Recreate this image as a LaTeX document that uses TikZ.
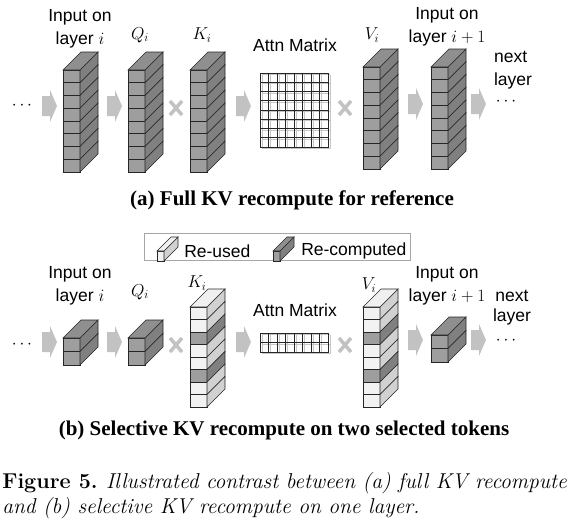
\documentclass[tikz,border=0pt]{standalone}
\usepackage{fontspec}
\setsansfont{Liberation Sans}
\newfontfamily\timesfont{Liberation Serif}
\usetikzlibrary{positioning}
\definecolor{recfront}{gray}{0.62}
\definecolor{recside}{gray}{0.50}
\definecolor{rectop}{gray}{0.56}
\definecolor{usefront}{gray}{0.95}
\definecolor{useside}{gray}{0.82}
\definecolor{usetop}{gray}{0.94}
\definecolor{arrowgray}{gray}{0.76}
\tikzset{
	rfront/.style={fill=recfront, draw=black!85},
	rside/.style={fill=recside, draw=black!85},
	rtop/.style={fill=rectop, draw=black!85},
	ufront/.style={fill=usefront, draw=black!85},
	uside/.style={fill=useside, draw=black!85},
	utop/.style={fill=usetop, draw=black!85},
	lbl/.style={font=\fontsize{17.5}{23}\selectfont\sffamily, align=center, inner sep=0pt},
	sublbl/.style={font=\fontsize{21}{25}\selectfont\timesfont\bfseries, inner sep=0pt},
	caplbl/.style={font=\fontsize{21.5}{26}\selectfont, inner sep=0pt, anchor=west}
}
\newcommand{\cellh}{12.75}
\newcommand{\tokcell}[1]{\draw[#1front] (0,0) rectangle (17,\cellh);
					\draw[#1side] (17,0) -- (35,-18) -- (35,\cellh-18) -- (17,\cellh) -- cycle;}
\newcommand{\tokcol}[2]{\foreach \s [count=\k from 0] in {#2} {
						\begin{scope}[shift={(0,\k*\cellh)}]
							\tokcell{\s}
						\end{scope}
					}
					\draw[#1top] (0,0) -- (18,-18) -- (35,-18) -- (17,0) -- cycle;}
\newcommand{\blockarrow}{\fill[arrowgray] (0,-10) -- (8,-10) -- (8,-16) -- (15,0) -- (8,16) -- (8,10) -- (0,10) -- cycle;}
\newcommand{\timesmark}{\draw[arrowgray, line width=3.5pt] (-6,-7) -- (6,7) (-6,7) -- (6,-7);}
\newcommand{\legendcube}[1]{\draw[#1front] (0,0) rectangle (7,10);
					\draw[#1side] (7,0) -- (21,-14) -- (21,-4) -- (7,10) -- cycle;
					\draw[#1top] (0,0) -- (14,-14) -- (21,-14) -- (7,0) -- cycle;}

\begin{document}
\begin{tikzpicture}[x=1pt, y=-1pt, line width=0.6pt]
	\useasboundingbox (0,0) rectangle (586,530);

	% (a) full KV recompute
	\node[lbl] (inA) at (80,29) {Input on\\layer $i$};
	\node[lbl] (qA) at (140,35) {$Q_i$};
	\node[lbl] (kA) at (202,35) {$K_i$};
	\node[lbl] (attnA) at (295,45) {Attn Matrix};
	\node[lbl] (vA) at (372,35) {$V_i$};
	\node[lbl] (outA) at (447,27) {Input on\\layer $i+1$};
	\node[lbl, align=left] (nextA) at (513,70) {next\\layer};
	\node[lbl] (dotsA) at (22,106) {$\cdots$};
	\node[lbl] (moreA) at (506,102) {$\cdots$};

	\begin{scope}[shift={(42,106)}]
		\blockarrow
	\end{scope}
	\begin{scope}[shift={(107,106)}]
		\blockarrow
	\end{scope}
	\begin{scope}[shift={(236,106)}]
		\blockarrow
	\end{scope}
	\begin{scope}[shift={(408,104)}]
		\blockarrow
	\end{scope}
	\begin{scope}[shift={(471,104)}]
		\blockarrow
	\end{scope}

	\begin{scope}[shift={(176,108)}]
		\timesmark
	\end{scope}
	\begin{scope}[shift={(345,108)}]
		\timesmark
	\end{scope}

	\begin{scope}[shift={(63,70)}]
		\tokcol{r}{r,r,r,r,r,r,r,r}
	\end{scope}
	\begin{scope}[shift={(128,70)}]
		\tokcol{r}{r,r,r,r,r,r,r,r}
	\end{scope}
	\begin{scope}[shift={(190,70)}]
		\tokcol{r}{r,r,r,r,r,r,r,r}
	\end{scope}
	\begin{scope}[shift={(363,67)}]
		\tokcol{r}{r,r,r,r,r,r,r,r}
	\end{scope}
	\begin{scope}[shift={(431,67)}]
		\tokcol{r}{r,r,r,r,r,r,r,r}
	\end{scope}

	\begin{scope}[shift={(260,73)}]
		\draw[gray!45, shift={(2,1.5)}] (0,0) grid[xstep=8.5pt, ystep=9.25pt] (68,74);
		\draw[black!85] (0,0) grid[xstep=8.5pt, ystep=9.25pt] (68,74);
		\draw[black!85] (0,0) rectangle (68,74);
	\end{scope}

	\node[sublbl] (capA) at (292,200) {(a) Full KV recompute for reference};

	% (b) selective KV recompute
	\node[draw=gray!70, line width=1pt, minimum width=266pt, minimum height=27pt, inner sep=0pt] (legend) at (277,246.5) {};
	\begin{scope}[shift={(157,251)}]
		\legendcube{u}
	\end{scope}
	\node[lbl, anchor=west] (reused) at (184,251) {Re-used};
	\begin{scope}[shift={(273,251)}]
		\legendcube{r}
	\end{scope}
	\node[lbl, anchor=west] (recomp) at (301,251) {Re-computed};

	\node[lbl] (inB) at (80,286) {Input on\\layer $i$};
	\node[lbl] (qB) at (140,292) {$Q_i$};
	\node[lbl] (kB) at (197,283) {$K_i$};
	\node[lbl] (attnB) at (295,310) {Attn Matrix};
	\node[lbl] (vB) at (369,285) {$V_i$};
	\node[lbl] (outB) at (447,286) {Input on\\layer $i+1$};
	\node[lbl] (nextB) at (512,296) {next};
	\node[lbl, below=6pt of nextB] (layerB) {layer};
	\node[lbl] (dotsB) at (22,345) {$\cdots$};
	\node[lbl] (moreB) at (506,341) {$\cdots$};

	\begin{scope}[shift={(42,342)}]
		\blockarrow
	\end{scope}
	\begin{scope}[shift={(107,342)}]
		\blockarrow
	\end{scope}
	\begin{scope}[shift={(236,342)}]
		\blockarrow
	\end{scope}
	\begin{scope}[shift={(408,340)}]
		\blockarrow
	\end{scope}
	\begin{scope}[shift={(471,340)}]
		\blockarrow
	\end{scope}

	\begin{scope}[shift={(176,345)}]
		\timesmark
	\end{scope}
	\begin{scope}[shift={(345,345)}]
		\timesmark
	\end{scope}

	\begin{scope}[shift={(63,338)}]
		\renewcommand{\cellh}{13.5}
		\tokcol{r}{r,r}
	\end{scope}
	\begin{scope}[shift={(128,338)}]
		\renewcommand{\cellh}{13.5}
		\tokcol{r}{r,r}
	\end{scope}
	\begin{scope}[shift={(190,307)}]
		\renewcommand{\cellh}{12.5}
		\tokcol{u}{u,u,r,u,u,r,u,u}
	\end{scope}
	\begin{scope}[shift={(363,307)}]
		\renewcommand{\cellh}{12.5}
		\tokcol{u}{u,u,r,u,u,r,u,u}
	\end{scope}
	\begin{scope}[shift={(431,335)}]
		\renewcommand{\cellh}{13.5}
		\tokcol{r}{r,r}
	\end{scope}

	\begin{scope}[shift={(260,333)}]
		\draw[gray!45, shift={(2,1.5)}] (0,0) grid[xstep=8.5pt, ystep=9.5pt] (68,19);
		\draw[black!85] (0,0) grid[xstep=8.5pt, ystep=9.5pt] (68,19);
		\draw[black!85] (0,0) rectangle (68,19);
	\end{scope}

	\node[sublbl] (capB) at (284,430) {(b) Selective KV recompute on two selected tokens};

	% figure caption
	\node[caplbl] (figcap1) at (2,483) {\textbf{Figure 5.} \textit{Illustrated contrast between (a) full KV recompute}};
	\node[caplbl] (figcap2) at (2,508) {\textit{and (b) selective KV recompute on one layer.}};
\end{tikzpicture}
\end{document}
